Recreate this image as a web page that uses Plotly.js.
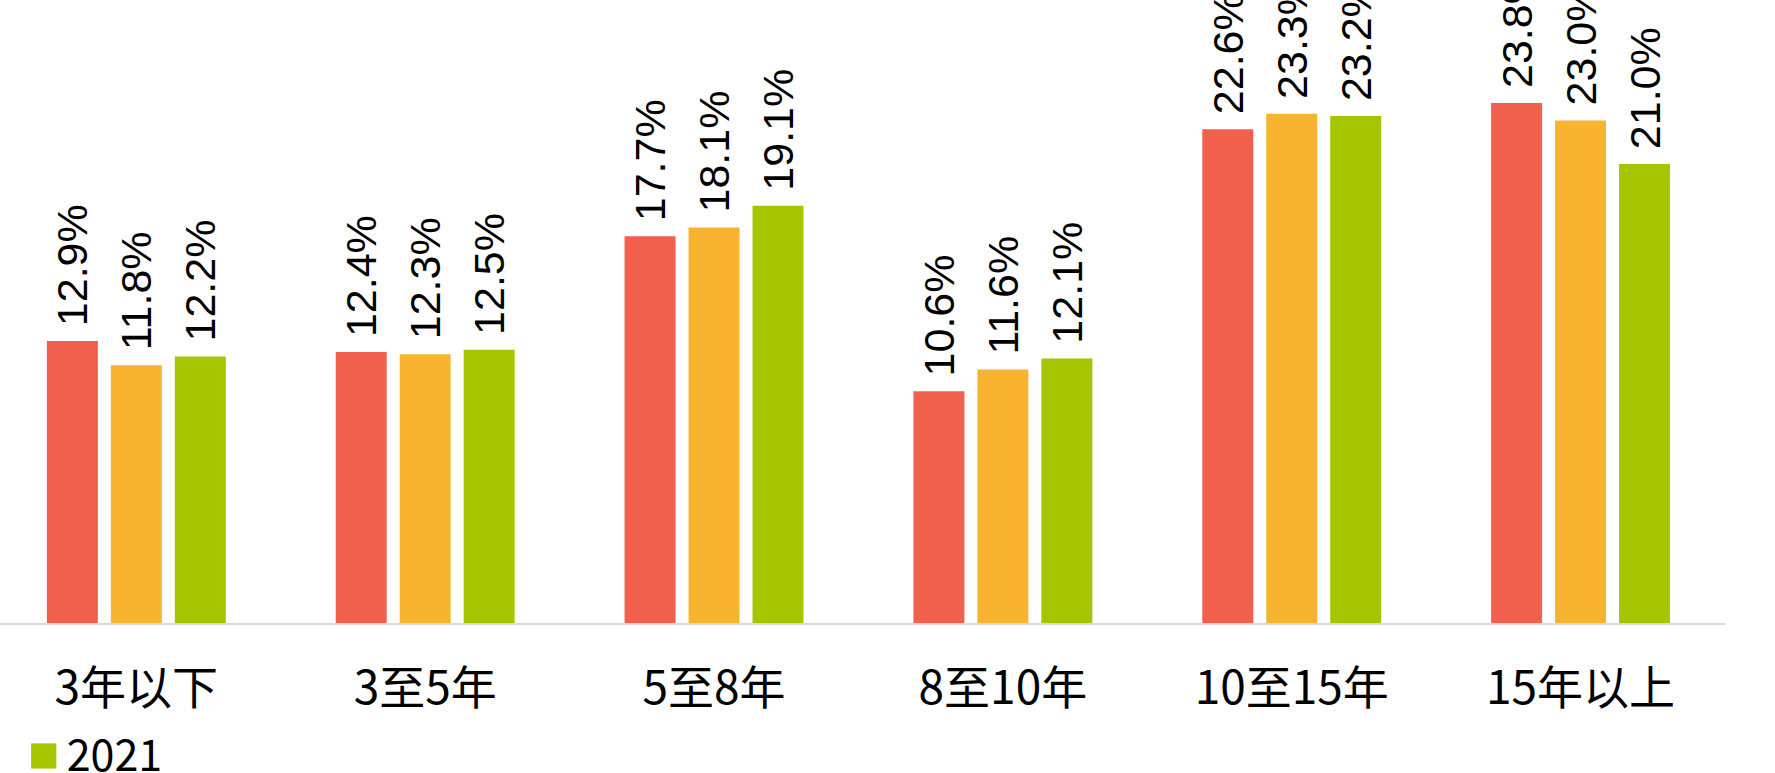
<!DOCTYPE html>
<html>
<head>
<meta charset="utf-8">
<script src="https://cdn.plot.ly/plotly-3.0.1.min.js"></script>
<style>
html,body{margin:0;padding:0;background:#fff;}
#chart{width:1775px;height:773px;}
</style>
</head>
<body>
<div id="chart"></div>
<script>
const categories = ['3年以下', '3至5年', '5至8年', '8至10年', '10至15年', '15年以上'];
const seriesNames = ['2019', '2020', '2021'];
const values2019 = [12.9, 12.4, 17.7, 10.6, 22.6, 23.8];
const values2020 = [11.8, 12.3, 18.1, 11.6, 23.3, 23.0];
const values2021 = [12.2, 12.5, 19.1, 12.1, 23.2, 21.0];
const colors = ['#F0604C', '#F8B330', '#A6C500'];
const legendVisible = [false, false, true];

const allValues = [values2019, values2020, values2021];
const traces = allValues.map((vals, i) => ({
  type: 'bar',
  name: seriesNames[i],
  x: categories,
  y: vals,
  marker: {color: colors[i]},
  texttemplate: '\u00a0%{y:.1f}%',
  textposition: 'outside',
  textangle: -90,
  constraintext: 'none',
  cliponaxis: false,
  textfont: {family: 'Liberation Sans, Arial, sans-serif', size: 43, color: '#000'},
  showlegend: legendVisible[i],
  hoverinfo: 'skip'
}));

const layout = {
  width: 1775,
  height: 773,
  margin: {l: 0, r: 50, t: 0, b: 150, autoexpand: false},
  paper_bgcolor: '#ffffff',
  plot_bgcolor: '#ffffff',
  barmode: 'group',
  bargap: 0.3356,
  bargroupgap: 0.203,
  showlegend: true,
  legend: {
    orientation: 'h',
    x: 0.0155, xanchor: 'left',
    y: -0.2103, yanchor: 'middle',
    font: {family: 'Noto Sans CJK SC, sans-serif', size: 43, color: '#000'},
    bgcolor: 'rgba(0,0,0,0)'
  },
  xaxis: {
    type: 'category',
    range: [-0.472, 5.5],
    showline: true,
    linecolor: '#D9D9D9',
    linewidth: 2,
    showgrid: false,
    zeroline: false,
    ticks: '',
    ticklabelstandoff: 24,
    tickfont: {family: 'Noto Sans CJK SC, sans-serif', size: 46, color: '#000'},
    fixedrange: true
  },
  yaxis: {
    range: [0, 28.51],
    visible: false,
    showgrid: false,
    zeroline: false,
    fixedrange: true
  }
};

Plotly.newPlot('chart', traces, layout, {displayModeBar: false, staticPlot: true}).then(() => {
  document.querySelectorAll('.legend .scrollbox').forEach(g => g.removeAttribute('clip-path'));
  document.querySelectorAll('.legend .legendpoints path').forEach(p => {
    p.setAttribute('transform', 'translate(17,2) scale(2.1)');
  });
});
</script>
</body>
</html>
